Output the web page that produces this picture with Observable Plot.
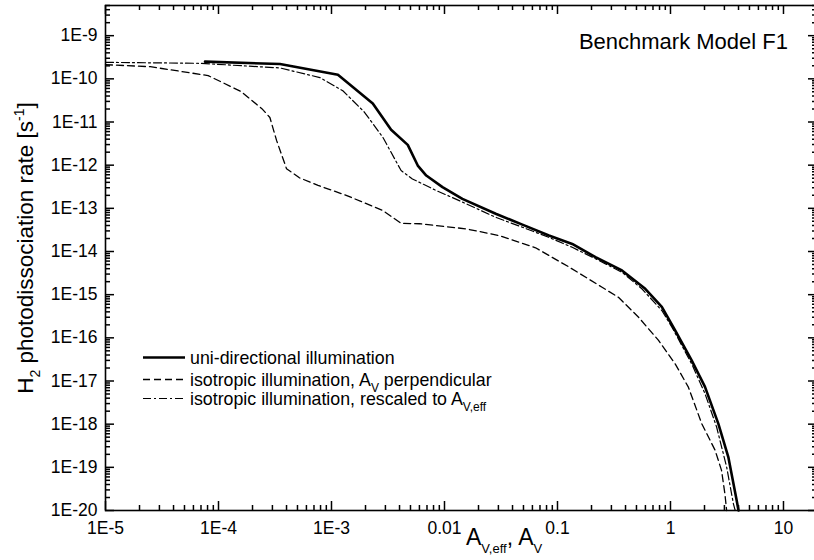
<!DOCTYPE html>
<html><head><meta charset="utf-8">
<script src="https://cdn.jsdelivr.net/npm/d3@7"></script>
<script src="https://cdn.jsdelivr.net/npm/@observablehq/plot@0.6"></script>
<style>
body{margin:0;background:#fff}
#chart svg{display:block;overflow:hidden}
</style>
</head><body><div id="chart"></div>
<script>
// ---- data ----
const uniX = [7.6e-5, 3.5e-4, 1.14e-3, 2.32e-3, 3.37e-3, 4.73e-3, 5.8e-3, 6.9e-3, 9.6e-3, 0.0144, 0.0284, 0.0489, 0.084, 0.135, 0.217, 0.372, 0.598, 0.838, 1.10, 1.54, 2.02, 2.65, 3.25, 3.85, 4.0];
const uniY = [2.5e-10, 2.2e-10, 1.25e-10, 2.7e-11, 6.6e-12, 2.95e-12, 9.8e-13, 5.75e-13, 3.1e-13, 1.66e-13, 7.5e-14, 4.2e-14, 2.34e-14, 1.5e-14, 7.4e-15, 3.65e-15, 1.37e-15, 5.2e-16, 1.48e-16, 3.0e-17, 7.3e-18, 1.03e-18, 1.73e-19, 1.73e-20, 1e-20];

const isoX = [1e-5, 2.49e-5, 8.1e-5, 1.58e-4, 2.42e-4, 2.85e-4, 3.27e-4, 4.0e-4, 5.2e-4, 7.6e-4, 1.35e-3, 2.85e-3, 4.13e-3, 6.0e-3, 0.0155, 0.0304, 0.064, 0.126, 0.248, 0.348, 0.522, 0.784, 1.10, 1.44, 1.89, 2.48, 2.83, 3.03, 3.14];
const isoY = [2.13e-10, 1.91e-10, 1.19e-10, 5.1e-11, 2.04e-11, 1.27e-11, 3.7e-12, 8.3e-13, 5.1e-13, 3.4e-13, 2.0e-13, 8.9e-14, 4.5e-14, 4.4e-14, 3.35e-14, 2.34e-14, 1.22e-14, 4.4e-15, 1.49e-15, 8.6e-16, 3.0e-16, 8.7e-17, 2.5e-17, 7.2e-18, 1.03e-18, 2.5e-19, 8.5e-20, 2.45e-20, 1e-20];

const resX = [1e-5, 6.9e-5, 3.5e-4, 7.9e-4, 1.26e-3, 1.96e-3, 2.85e-3, 4.13e-3, 5.2e-3, 8.4e-3, 0.0135, 0.0284, 0.0489, 0.084, 0.135, 0.217, 0.372, 0.558, 0.838, 1.03, 1.54, 2.02, 2.56, 3.14, 3.6, 3.74];
const resY = [2.41e-10, 2.29e-10, 1.79e-10, 1.07e-10, 5.3e-11, 1.68e-11, 4.4e-12, 7.5e-13, 4.8e-13, 2.6e-13, 1.51e-13, 6.2e-14, 3.65e-14, 2.12e-14, 1.25e-14, 6.8e-15, 3.3e-15, 1.37e-15, 4.3e-16, 1.77e-16, 2.5e-17, 5.1e-18, 8.6e-19, 1.02e-19, 1.45e-20, 1e-20];

const xMajorTicks = [1e-5, 1e-4, 1e-3, 0.01, 0.1, 1, 10];
const xTickLabels = ["1E-5", "1E-4", "1E-3", "0.01", "0.1", "1", "10"];
const yMajorTicks = [1e-9, 1e-10, 1e-11, 1e-12, 1e-13, 1e-14, 1e-15, 1e-16, 1e-17, 1e-18, 1e-19, 1e-20];
const yTickLabels = ["1E-9", "1E-10", "1E-11", "1E-12", "1E-13", "1E-14", "1E-15", "1E-16", "1E-17", "1E-18", "1E-19", "1E-20"];

const titleText = "Benchmark Model F1";

// ---- build ----
const rows = (xs, ys) => xs.map((x, i) => ({x, y: ys[i]}));
const xDomain = [1e-5, 20];
const yDomain = [1e-20, 5e-9];
const minors = (lo, hi, d0, d1) => {
  const out = [];
  for (let d = d0; d <= d1; d++) for (let k = 2; k <= 9; k++) {
    const v = k * Math.pow(10, d);
    if (v >= lo && v <= hi) out.push(v);
  }
  return out;
};
const xMinor = minors(xDomain[0], xDomain[1], -5, 1);
const yMinor = minors(yDomain[0], yDomain[1], -20, -9);

const W = 814, H = 560, mL = 105, mR = -3, mT = 5, mB = 50;
const frameW = W - mL - mR, frameH = H - mT - mB;
const font = "'Liberation Sans', Arial, Helvetica, sans-serif";
const tw = 1.5;
const MAJ = 9, MIN = 5;

const xTicks = (vals, len) => [
  Plot.ruleX(vals, {stroke: "black", strokeWidth: tw, insetTop: frameH - len}),
  Plot.ruleX(vals, {stroke: "black", strokeWidth: tw, insetBottom: frameH - len})
];
const yTicks = (vals, len) => [
  Plot.ruleY(vals, {stroke: "black", strokeWidth: tw, insetRight: frameW - len}),
  Plot.ruleY(vals, {stroke: "black", strokeWidth: tw, insetLeft: frameW - len})
];

const chart = Plot.plot({
  width: W, height: H,
  marginLeft: mL, marginRight: mR, marginTop: mT, marginBottom: mB,
  x: {type: "log", domain: xDomain, label: null},
  y: {type: "log", domain: yDomain, label: null},
  marks: [
    Plot.frame({stroke: "black", strokeWidth: 1.6}),
    ...xTicks(xMajorTicks, MAJ),
    ...xTicks(xMinor, MIN),
    ...yTicks(yMajorTicks, MAJ),
    ...yTicks(yMinor, MIN),
    Plot.axisX(xMajorTicks, {anchor: "bottom", tickSize: 0, tickPadding: 11, fill: "black",
      tickFormat: d => xTickLabels[xMajorTicks.indexOf(d)], label: null}),
    Plot.axisY(yMajorTicks, {anchor: "left", tickSize: 0, tickPadding: 8, fill: "black",
      tickFormat: d => yTickLabels[yMajorTicks.indexOf(d)], label: null}),
    Plot.line(rows(isoX, isoY), {x: "x", y: "y", stroke: "black", strokeWidth: 1.3, strokeDasharray: "7,4"}),
    Plot.line(rows(resX, resY), {x: "x", y: "y", stroke: "black", strokeWidth: 1.2, strokeDasharray: "8,3,2,3"}),
    Plot.line(rows(uniX, uniY), {x: "x", y: "y", stroke: "black", strokeWidth: 2.6})
  ]
});
document.getElementById("chart").appendChild(chart);

const svg = d3.select(chart).attr("font-family", font).attr("font-size", 17.5);
const g = svg.append("g").attr("font-family", font).attr("fill", "black").attr("text-anchor", "start");

g.append("text").attr("x", 788).attr("y", 49).attr("text-anchor", "end")
  .attr("font-size", 22).text(titleText);

const yl = g.append("text").attr("transform", "translate(33,248) rotate(-90)")
  .attr("text-anchor", "middle").attr("font-size", 22.5);
yl.append("tspan").text("H");
yl.append("tspan").attr("font-size", 14).attr("dy", 7).text("2");
yl.append("tspan").attr("dy", -7).text(" photodissociation rate [s");
yl.append("tspan").attr("font-size", 14).attr("dy", -9).text("-1");
yl.append("tspan").attr("dy", 9).text("]");

const xl = g.append("text").attr("x", 466).attr("y", 545).attr("font-size", 23).attr("text-anchor", "start");
xl.append("tspan").text("A");
xl.append("tspan").attr("font-size", 13).attr("dy", 8).text("V,eff");
xl.append("tspan").attr("dy", -8).text(", A");
xl.append("tspan").attr("font-size", 13).attr("dy", 8).text("V");

const legendStyles = [
  {w: 2.6, dash: null},
  {w: 1.3, dash: "7,4"},
  {w: 1.2, dash: "8,3,2,3"}
];
const lineYs = [357.5, 379.5, 398.5];
const textYs = [363.5, 386, 405];
legendStyles.forEach((s, i) => {
  const l = g.append("line").attr("x1", 143).attr("x2", 185).attr("y1", lineYs[i]).attr("y2", lineYs[i])
    .attr("stroke", "black").attr("stroke-width", s.w);
  if (s.dash) l.attr("stroke-dasharray", s.dash);
});
const fs = 17.8, sub = 12;
const t1 = g.append("text").attr("x", 190).attr("y", textYs[0]).attr("font-size", fs).attr("text-anchor", "start");
t1.text("uni-directional illumination");
const t2 = g.append("text").attr("x", 190).attr("y", textYs[1]).attr("font-size", fs).attr("text-anchor", "start");
t2.append("tspan").text("isotropic illumination, A");
t2.append("tspan").attr("font-size", sub).attr("dy", 6).text("V");
t2.append("tspan").attr("dy", -6).text(" perpendicular");
const t3 = g.append("text").attr("x", 190).attr("y", textYs[2]).attr("font-size", fs).attr("text-anchor", "start");
t3.append("tspan").text("isotropic illumination, rescaled to A");
t3.append("tspan").attr("font-size", sub).attr("dy", 6).text("V,eff");
</script>
</body></html>
